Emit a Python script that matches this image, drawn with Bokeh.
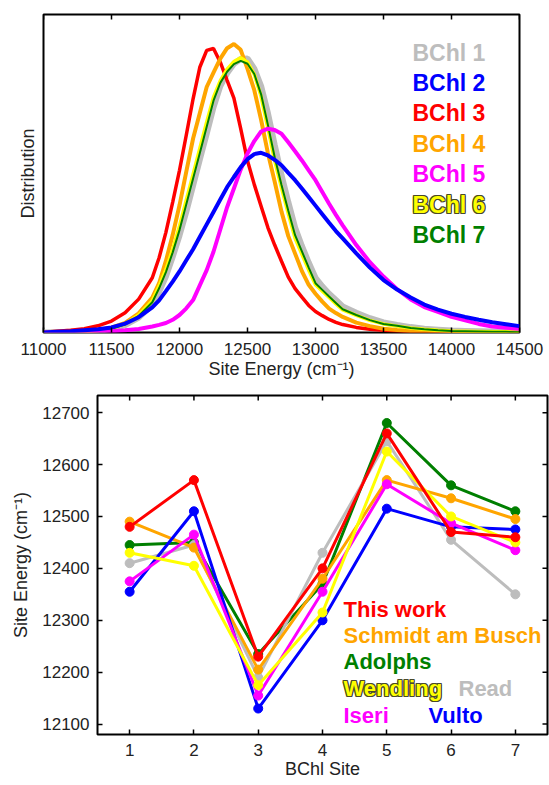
import math
from bokeh.plotting import figure
from bokeh.models import Range1d, Label, FixedTicker
from bokeh.embed import file_html
from bokeh.resources import INLINE

# ---------------- data: top panel (site-energy distributions) ----------------
energy = [11000, 11100, 11200, 11300, 11400, 11500, 11600, 11700, 11800,
          11850, 11900, 11950, 12000, 12050, 12100, 12150, 12200, 12250, 12300,
          12350, 12400, 12450, 12500, 12550, 12600, 12650, 12700, 12750, 12800,
          12850, 12900, 12950, 13000, 13050, 13100, 13150, 13200,
          13300, 13400, 13500, 13600, 13700, 13800, 13900, 14000, 14100, 14200,
          14300, 14400, 14500]

bchl1 = [0, 0.001, 0.002, 0.003, 0.005, 0.011, 0.023, 0.047, 0.087,
         0.128, 0.176, 0.238, 0.305, 0.380, 0.462, 0.545, 0.625, 0.708, 0.775,
         0.815, 0.845, 0.860, 0.862, 0.830, 0.775, 0.690, 0.590, 0.495, 0.410,
         0.330, 0.272, 0.220, 0.172, 0.145, 0.122, 0.102, 0.082,
         0.062, 0.045, 0.032, 0.024, 0.017, 0.012, 0.009, 0.006, 0.005, 0.004,
         0.003, 0.002, 0.002]
bchl2 = [0, 0.002, 0.004, 0.007, 0.010, 0.016, 0.028, 0.048, 0.079,
         0.101, 0.130, 0.160, 0.192, 0.227, 0.262, 0.301, 0.340, 0.379, 0.418,
         0.457, 0.489, 0.520, 0.545, 0.561, 0.565, 0.557, 0.543, 0.526, 0.502,
         0.479, 0.453, 0.426, 0.399, 0.372, 0.345, 0.319, 0.296,
         0.249, 0.204, 0.165, 0.135, 0.110, 0.088, 0.072, 0.059, 0.049, 0.040,
         0.032, 0.026, 0.020]
bchl3 = [0.001, 0.004, 0.007, 0.012, 0.021, 0.036, 0.062, 0.105, 0.172,
         0.235, 0.315, 0.410, 0.510, 0.621, 0.735, 0.835, 0.887, 0.893, 0.850,
         0.793, 0.737, 0.641, 0.540, 0.465, 0.397, 0.330, 0.275, 0.224, 0.174,
         0.138, 0.111, 0.085, 0.066, 0.053, 0.041, 0.032, 0.025,
         0.016, 0.010, 0.007, 0.005, 0.003, 0.002, 0.002, 0.001, 0.001, 0,
         0, 0, 0]
bchl4 = [0, 0.001, 0.002, 0.004, 0.007, 0.015, 0.030, 0.060, 0.110,
         0.155, 0.225, 0.307, 0.400, 0.506, 0.610, 0.691, 0.772, 0.817, 0.861,
         0.894, 0.907, 0.889, 0.829, 0.762, 0.669, 0.564, 0.474, 0.380, 0.303,
         0.248, 0.193, 0.150, 0.122, 0.097, 0.075, 0.061, 0.049,
         0.031, 0.020, 0.012, 0.008, 0.005, 0.003, 0.002, 0.001, 0.001, 0,
         0, 0, 0]
bchl5 = [0, 0.001, 0.001, 0.002, 0.002, 0.004, 0.007, 0.011, 0.019,
         0.024, 0.030, 0.040, 0.055, 0.076, 0.102, 0.149, 0.196, 0.254, 0.324,
         0.394, 0.453, 0.512, 0.563, 0.602, 0.632, 0.641, 0.637, 0.625, 0.598,
         0.570, 0.541, 0.510, 0.479, 0.442, 0.405, 0.370, 0.337,
         0.275, 0.221, 0.176, 0.136, 0.104, 0.080, 0.065, 0.049, 0.038, 0.027,
         0.019, 0.015, 0.012]
bchl6 = [0, 0.001, 0.002, 0.003, 0.006, 0.013, 0.027, 0.055, 0.100,
         0.146, 0.198, 0.262, 0.335, 0.417, 0.498, 0.580, 0.662, 0.740, 0.792,
         0.828, 0.852, 0.864, 0.850, 0.812, 0.742, 0.643, 0.540, 0.455, 0.373,
         0.296, 0.246, 0.196, 0.150, 0.130, 0.110, 0.090, 0.071,
         0.054, 0.038, 0.027, 0.020, 0.014, 0.010, 0.007, 0.005, 0.004, 0.003,
         0.002, 0.002, 0.001]
bchl7 = [0, 0.001, 0.002, 0.003, 0.006, 0.012, 0.025, 0.052, 0.095,
         0.139, 0.190, 0.252, 0.322, 0.403, 0.484, 0.565, 0.647, 0.729, 0.785,
         0.820, 0.844, 0.854, 0.845, 0.813, 0.749, 0.653, 0.551, 0.464, 0.383,
         0.306, 0.255, 0.204, 0.155, 0.134, 0.113, 0.093, 0.073,
         0.055, 0.039, 0.027, 0.021, 0.014, 0.010, 0.007, 0.005, 0.004, 0.003,
         0.002, 0.002, 0.001]
energy_ticks = [11000, 11500, 12000, 12500, 13000, 13500, 14000, 14500]

# ---------------- data: bottom panel (site energies per model) ----------------
sites = [1, 2, 3, 4, 5, 6, 7]
this_work = [12480, 12570, 12230, 12400, 12660, 12470, 12460]
schmidt = [12490, 12440, 12205, 12380, 12570, 12535, 12495]
adolphs = [12445, 12450, 12235, 12370, 12680, 12560, 12510]
wendling = [12430, 12405, 12175, 12315, 12625, 12500, 12450]
read = [12410, 12445, 12190, 12430, 12645, 12455, 12350]
iseri = [12375, 12465, 12155, 12355, 12562, 12487, 12435]
vulto = [12355, 12510, 12130, 12300, 12515, 12480, 12475]
site_ticks = [1, 2, 3, 4, 5, 6, 7]
energy_ticks2 = [12100, 12200, 12300, 12400, 12500, 12600, 12700]

FONT = "Liberation Sans"
GRAY = "#bdbdbd"
BLUE = "#0000ff"
RED = "#ff0000"
ORANGE = "#ffa500"
MAGENTA = "#ff00ff"
YELLOW = "#ffff00"
GREEN = "#007f00"
OUTLINE = "#4a4a2a"
TXT = "#222222"


def style_axis(ax, ticks, standoff=9):
    ax.ticker = FixedTicker(ticks=ticks)
    ax.axis_line_color = None
    ax.major_tick_in = 5
    ax.major_tick_out = 0
    ax.major_tick_line_color = "black"
    ax.major_tick_line_width = 1.5
    ax.minor_tick_line_color = None
    ax.major_label_text_font = FONT
    ax.major_label_text_font_size = "17px"
    ax.major_label_text_color = TXT
    ax.major_label_standoff = standoff
    ax.axis_label_text_font = FONT
    ax.axis_label_text_font_size = "18px"
    ax.axis_label_text_font_style = "normal"
    ax.axis_label_text_color = TXT


def mirror_ticks(p, xticks, y_at, yticks=None, x_at=None):
    # inward tick marks on the opposite frame edges (half of each dash is clipped)
    p.scatter(xticks, [y_at] * len(xticks), marker="dash", angle=math.pi / 2,
              size=10, line_color="black", line_width=1.5)
    if yticks is not None:
        p.scatter([x_at] * len(yticks), yticks, marker="dash",
                  size=10, line_color="black", line_width=1.5)


def outlined_label(p, x, y, text, color, size, outline=None):
    if outline:
        for dx in (-1, 0, 1):
            for dy in (-1, 0, 1):
                if dx == 0 and dy == 0:
                    continue
                p.add_layout(Label(x=x, y=y, x_units="screen", y_units="screen",
                                   x_offset=dx, y_offset=dy, text=text,
                                   text_color=outline, text_font=FONT,
                                   text_font_style="bold", text_font_size=size,
                                   text_baseline="middle"))
    p.add_layout(Label(x=x, y=y, x_units="screen", y_units="screen", text=text,
                       text_color=color, text_font=FONT, text_font_style="bold",
                       text_font_size=size, text_baseline="middle"))


# ---------------- top figure ----------------
top = figure(width=549, height=385, output_backend="svg", toolbar_location=None,
             x_range=Range1d(11000, 14500), y_range=Range1d(0, 1.0),
             min_border_left=43, min_border_right=30, min_border_top=14,
             min_border_bottom=53)
top.grid.visible = False
top.outline_line_color = "black"
top.outline_line_width = 2
style_axis(top.xaxis[0], energy_ticks, standoff=10)
top.xaxis[0].axis_label = "Site Energy (cm\u207b\u00b9)"
top.xaxis[0].axis_label_standoff = 1
yax = top.yaxis[0]
yax.ticker = FixedTicker(ticks=[])
yax.axis_line_color = None
yax.axis_label = "Distribution"
yax.axis_label_text_font = FONT
yax.axis_label_text_font_size = "18px"
yax.axis_label_text_font_style = "normal"
yax.axis_label_text_color = TXT
yax.axis_label_standoff = 6
mirror_ticks(top, energy_ticks, top.y_range.end)

top.line(energy, bchl1, color=GRAY, line_width=6)
top.line(energy, bchl3, color=RED, line_width=3.5)
top.line(energy, bchl4, color=ORANGE, line_width=4)
top.line(energy, bchl6, color=YELLOW, line_width=3.5)
top.line(energy, bchl7, color=GREEN, line_width=2)
top.line(energy, bchl5, color=MAGENTA, line_width=4)
top.line(energy, bchl2, color=BLUE, line_width=4)

legend_top = [("BChl 1", GRAY, None), ("BChl 2", BLUE, None), ("BChl 3", RED, None),
              ("BChl 4", ORANGE, None), ("BChl 5", MAGENTA, None),
              ("BChl 6", YELLOW, OUTLINE), ("BChl 7", GREEN, None)]
for i, (t, c, o) in enumerate(legend_top):
    outlined_label(top, 369, 280 - i * 30.4, t, c, "23px", o)

# ---------------- bottom figure ----------------
bot = figure(width=549, height=400, output_backend="svg", toolbar_location=None,
             x_range=Range1d(0.5, 7.5), y_range=Range1d(12080, 12733),
             min_border_left=97, min_border_right=2, min_border_top=10,
             min_border_bottom=51)
bot.grid.visible = False
bot.outline_line_color = "black"
bot.outline_line_width = 2
style_axis(bot.xaxis[0], site_ticks, standoff=9)
bot.xaxis[0].axis_label = "BChl Site"
bot.xaxis[0].axis_label_standoff = 0
style_axis(bot.yaxis[0], energy_ticks2, standoff=8)
bot.yaxis[0].axis_label = "Site Energy (cm\u207b\u00b9)"
bot.yaxis[0].axis_label_standoff = 8
mirror_ticks(bot, site_ticks, bot.y_range.end, energy_ticks2, bot.x_range.end)

series = [(adolphs, GREEN), (read, GRAY), (schmidt, ORANGE), (vulto, BLUE),
          (iseri, MAGENTA), (wendling, YELLOW), (this_work, RED)]
for vals, col in series:
    bot.line(sites, vals, color=col, line_width=3)
    bot.scatter(sites, vals, size=9, color=col)

outlined_label(bot, 246, 125, "This work", RED, "22px")
outlined_label(bot, 246, 99, "Schmidt am Busch", ORANGE, "22px")
outlined_label(bot, 246, 73, "Adolphs", GREEN, "22px")
outlined_label(bot, 246, 46, "Wendling", YELLOW, "22px", OUTLINE)
outlined_label(bot, 361, 46, "Read", GRAY, "22px")
outlined_label(bot, 246, 19, "Iseri", MAGENTA, "22px")
outlined_label(bot, 331, 19, "Vulto", BLUE, "22px")

open("out.html", "w").write(file_html([top, bot], INLINE))
